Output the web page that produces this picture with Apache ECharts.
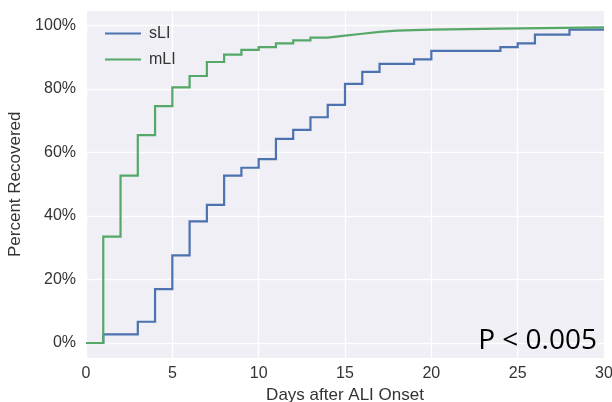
<!DOCTYPE html>
<html>
<head>
<meta charset="utf-8">
<script src="https://cdn.jsdelivr.net/npm/echarts@6/dist/echarts.min.js"></script>
<style>html,body{margin:0;padding:0;background:#fff}#c{width:612px;height:402px}</style>
</head>
<body>
<div id="c"></div>
<script>
// Kaplan-Meier style recovery curves (day, fraction recovered after that day)
const sliDays   = [0, 1, 3, 4, 5, 6, 7, 8, 9, 10, 11, 12, 13, 14, 15, 16, 17, 19, 20, 24, 25, 26, 28, 30];
const sliValues = [0, 0.027, 0.067, 0.170, 0.276, 0.383, 0.435, 0.527, 0.552, 0.579, 0.643, 0.671, 0.711, 0.750, 0.816, 0.854, 0.879, 0.893, 0.920, 0.932, 0.944, 0.971, 0.987, 0.987];
const mliDays   = [0, 1, 2, 3, 4, 5, 6, 7, 8, 9, 10, 11, 12, 13, 14, 15, 16, 17, 18, 20, 24, 30];
const mliValues = [0, 0.335, 0.527, 0.655, 0.746, 0.805, 0.841, 0.885, 0.908, 0.923, 0.932, 0.944, 0.953, 0.962, 0.968, 0.974, 0.980, 0.984, 0.987, 0.990, 0.994, 0.994];
const seriesNames = ['sLI', 'mLI'];
const xTitle = 'Days after ALI Onset';
const yTitle = 'Percent Recovered';
const pText = 'P < 0.005';

// step-post expansion: hold previous value until the next day, then jump
const steps = (xs, ys) => {
  const out = [[xs[0], ys[0]]];
  for (let i = 1; i < xs.length; i++) {
    out.push([xs[i], ys[i - 1]]);
    out.push([xs[i], ys[i]]);
  }
  return out;
};
const chart = echarts.init(document.getElementById('c'), null, {renderer: 'canvas'});
const txt = '#333333';
const ff = 'Liberation Sans, Arial';
chart.setOption({
  animation: false,
  backgroundColor: '#ffffff',
  grid: [
    {left: 86, right: 8, top: 11, bottom: 44, show: true, backgroundColor: '#EFEFF5', borderWidth: 0,
     containLabel: false, outerBoundsMode: 'none'},
    {left: 86, right: 8, top: 25.5, bottom: 59, show: false, containLabel: false, outerBoundsMode: 'none'}
  ],
  xAxis: [
    {gridIndex: 0, type: 'value', min: 0, max: 30, interval: 5,
     axisLine: {show: false}, axisTick: {show: false},
     splitLine: {show: true, lineStyle: {color: '#ffffff', width: 1.3}},
     axisLabel: {fontFamily: ff, fontSize: 16, color: txt, margin: 8},
     name: xTitle, nameLocation: 'middle', nameGap: 28,
     nameTextStyle: {fontFamily: ff, fontSize: 17, color: txt}},
    {gridIndex: 1, type: 'value', min: 0, max: 30, show: false}
  ],
  yAxis: [
    {gridIndex: 0, type: 'value', min: -0.05, max: 1.05, show: false},
    {gridIndex: 1, type: 'value', min: 0, max: 1, interval: 0.2,
     axisLine: {show: false}, axisTick: {show: false},
     splitLine: {show: true, lineStyle: {color: '#ffffff', width: 1.3}},
     axisLabel: {fontFamily: ff, fontSize: 16, color: txt, margin: 10,
       formatter: v => Math.round(v * 100) + '%'},
     name: yTitle, nameLocation: 'middle', nameGap: 56,
     nameTextStyle: {fontFamily: ff, fontSize: 17, color: txt}}
  ],
  legend: {
    orient: 'vertical', left: 100, top: 15.5, itemGap: 0,
    icon: 'rect', itemWidth: 36, itemHeight: 2,
    textStyle: {fontFamily: ff, fontSize: 16, color: txt, lineHeight: 26, padding: [0, 0, 0, 3]},
    data: seriesNames
  },
  series: [
    {name: seriesNames[0], type: 'line', xAxisIndex: 1, yAxisIndex: 1,
     symbol: 'none', data: steps(sliDays, sliValues), color: '#4C72B0',
     lineStyle: {width: 2.2, color: '#4C72B0', join: 'miter'}, clip: false},
    {name: seriesNames[1], type: 'line', xAxisIndex: 1, yAxisIndex: 1,
     symbol: 'none', data: steps(mliDays, mliValues), color: '#55A868',
     lineStyle: {width: 2.2, color: '#55A868', join: 'miter'}, clip: false}
  ],
  graphic: [
    {type: 'text', right: 15, top: 327, z: 100,
     style: {text: pText, fontFamily: 'Open Sans', fontSize: 28, fill: '#000000'}}
  ]
});
</script>
</body>
</html>
